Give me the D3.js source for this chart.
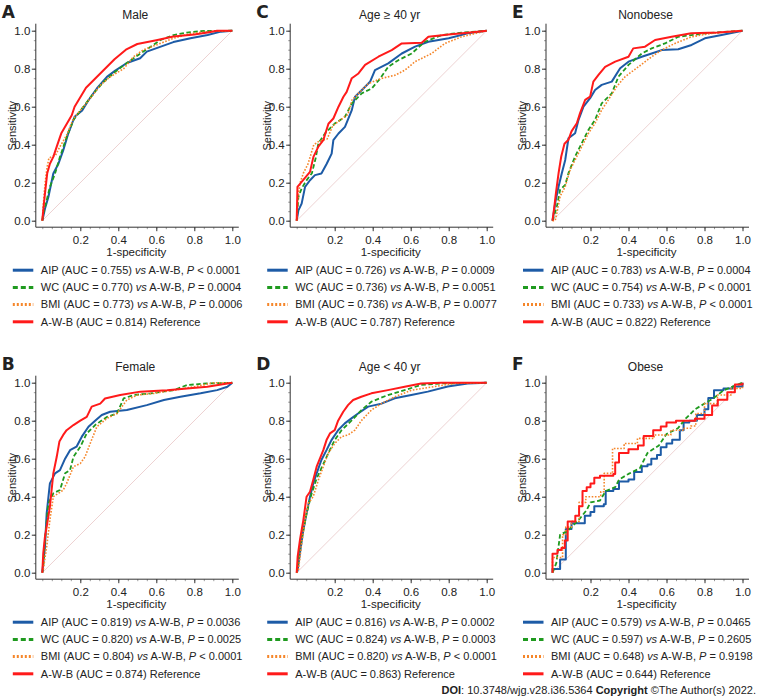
<!DOCTYPE html>
<html>
<head>
<meta charset="utf-8">
<script src="https://cdn.jsdelivr.net/npm/d3@7"></script>
<style>
  html, body { margin: 0; padding: 0; background: #fff; }
  svg { display: block; font-family: "Liberation Sans", Arial, sans-serif; }
</style>
</head>
<body>
<svg id="chart" width="763" height="698"></svg>
<script>
// ROC points [1-specificity, sensitivity]
var maleAIP = [[0,0],[.014,.063],[.032,.125],[.058,.248],[.085,.3],[.11,.37],[.137,.46],[.17,.547],[.21,.58],[.243,.634],[.287,.696],[.34,.757],[.384,.79],[.445,.83],[.515,.855],[.55,.89],[.62,.915],[.69,.94],[.78,.96],[.87,.977],[.94,.995],[1,1]];
var maleWC = [[0,0],[.005,.037],[.023,.107],[.04,.178],[.067,.248],[.093,.336],[.128,.44],[.164,.53],[.216,.6],[.27,.67],[.322,.73],[.384,.784],[.445,.83],[.516,.88],[.57,.915],[.62,.95],[.69,.977],[.76,.99],[.83,.998],[1,1]];
var maleBMI = [[0,0],[.005,.08],[.015,.2],[.025,.28],[.035,.33],[.07,.345],[.093,.39],[.128,.45],[.164,.538],[.208,.59],[.252,.643],[.305,.713],[.357,.757],[.428,.8],[.48,.863],[.533,.9],[.6,.925],[.69,.96],[.78,.985],[.87,.995],[1,1]];
var maleAWB = [[0,0],[.005,.054],[.014,.142],[.026,.25],[.04,.3],[.058,.336],[.076,.39],[.093,.44],[.1,.46],[.155,.555],[.17,.6],[.2,.65],[.23,.7],[.28,.75],[.33,.8],[.38,.85],[.44,.9],[.5,.93],[.6,.95],[.69,.97],[.8,.98],[.87,.99],[.92,1],[1,1]];

var femaleAIP = [[0,0],[.014,.137],[.023,.312],[.04,.47],[.067,.523],[.093,.54],[.12,.6],[.146,.645],[.18,.663],[.208,.716],[.243,.768],[.278,.8],[.313,.83],[.357,.847],[.445,.856],[.55,.882],[.64,.909],[.727,.926],[.833,.944],[.92,.961],[.974,.979],[1,1]];
var femaleWC = [[0,0],[.005,.03],[.014,.172],[.032,.365],[.058,.418],[.093,.435],[.12,.523],[.146,.54],[.164,.61],[.2,.663],[.234,.733],[.278,.777],[.34,.82],[.393,.838],[.428,.917],[.48,.935],[.57,.944],[.693,.961],[.762,.988],[.868,.996],[1,1]];
var femaleBMI = [[0,0],[.005,.015],[.023,.137],[.04,.277],[.058,.4],[.085,.418],[.11,.435],[.128,.47],[.164,.558],[.2,.575],[.225,.61],[.252,.68],[.287,.768],[.34,.812],[.393,.838],[.445,.909],[.5,.935],[.588,.944],[.693,.961],[.8,.979],[.905,1],[1,1]];
var femaleAWB = [[0,0],[.005,.102],[.014,.19],[.023,.242],[.04,.347],[.058,.523],[.076,.61],[.09,.69],[.11,.725],[.128,.75],[.164,.777],[.2,.8],[.234,.82],[.26,.874],[.305,.89],[.33,.917],[.41,.935],[.516,.953],[.657,.96],[.762,.97],[.868,.979],[.974,.996],[1,1]];

var oldAIP = [[0,0],[.009,.054],[.026,.09],[.044,.178],[.07,.213],[.096,.24],[.13,.248],[.158,.3],[.184,.353],[.193,.424],[.22,.459],[.254,.494],[.29,.582],[.307,.652],[.342,.687],[.386,.731],[.412,.793],[.482,.828],[.553,.88],[.623,.916],[.693,.942],[.8,.96],[.9,.986],[1,1]];
var oldWC = [[0,0],[.009,.125],[.026,.17],[.05,.21],[.08,.25],[.1,.33],[.114,.406],[.149,.459],[.2,.511],[.254,.547],[.29,.617],[.342,.67],[.395,.696],[.44,.749],[.482,.81],[.535,.845],[.605,.88],[.675,.942],[.763,.977],[.868,.99],[1,1]];
var oldBMI = [[0,0],[.005,.107],[.018,.2],[.035,.25],[.06,.3],[.09,.4],[.12,.42],[.16,.43],[.19,.5],[.23,.53],[.27,.56],[.29,.634],[.325,.67],[.377,.722],[.447,.749],[.518,.766],[.57,.793],[.623,.837],[.71,.88],[.78,.933],[.868,.968],[1,1]];
var oldAWB = [[0,0],[.004,.178],[.026,.204],[.07,.257],[.088,.336],[.114,.39],[.14,.424],[.167,.51],[.193,.538],[.22,.6],[.246,.652],[.263,.678],[.29,.75],[.325,.775],[.36,.82],[.43,.863],[.5,.898],[.553,.933],[.658,.937],[.693,.968],[.8,.98],[.9,.989],[1,1]];

var youngAIP = [[0,0],[.005,.014],[.017,.102],[.035,.225],[.052,.312],[.07,.4],[.087,.47],[.105,.523],[.13,.593],[.157,.645],[.183,.698],[.218,.75],[.253,.786],[.288,.812],[.323,.838],[.376,.874],[.446,.89],[.516,.918],[.603,.935],[.69,.953],[.795,.98],[.9,.996],[1,1]];
var youngWC = [[0,0],[.005,.03],[.017,.137],[.035,.225],[.052,.312],[.079,.418],[.105,.496],[.13,.55],[.166,.628],[.2,.698],[.236,.75],[.288,.8],[.341,.856],[.393,.9],[.48,.935],[.568,.961],[.655,.988],[.76,.996],[1,1]];
var youngBMI = [[0,0],[.009,.014],[.026,.154],[.044,.277],[.061,.365],[.087,.4],[.114,.488],[.14,.558],[.166,.628],[.2,.68],[.236,.716],[.27,.725],[.306,.75],[.34,.8],[.393,.856],[.446,.89],[.516,.926],[.603,.96],[.725,.98],[.83,.996],[1,1]];
var youngAWB = [[0,0],[.005,.084],[.017,.172],[.035,.277],[.052,.4],[.07,.426],[.087,.488],[.105,.558],[.122,.6],[.14,.645],[.157,.698],[.175,.733],[.2,.75],[.218,.8],[.245,.847],[.27,.882],[.297,.909],[.34,.926],[.393,.944],[.48,.961],[.568,.979],[.655,.996],[.76,1],[1,1]];

var nonobAIP = [[0,0],[.005,.03],[.014,.093],[.032,.18],[.049,.25],[.067,.32],[.084,.434],[.119,.46],[.137,.531],[.163,.6],[.198,.645],[.224,.688],[.259,.715],[.312,.732],[.356,.802],[.4,.837],[.47,.863],[.522,.88],[.574,.898],[.662,.902],[.732,.925],[.802,.96],[.89,.977],[1,1]];
var nonobWC = [[0,0],[.005,.015],[.023,.075],[.04,.163],[.067,.189],[.084,.25],[.119,.338],[.145,.39],[.189,.478],[.224,.531],[.259,.618],[.312,.67],[.347,.758],[.4,.82],[.47,.88],[.522,.907],[.592,.933],[.662,.968],[.802,.986],[1,1]];
var nonobBMI = [[0,0],[.014,0],[.023,.04],[.04,.128],[.067,.18],[.093,.268],[.119,.32],[.154,.39],[.189,.46],[.224,.513],[.259,.583],[.294,.636],[.338,.706],[.382,.758],[.452,.81],[.522,.863],[.574,.898],[.644,.933],[.732,.968],[.837,.986],[1,1]];
var nonobAWB = [[0,0],[.01,.075],[.018,.145],[.032,.25],[.046,.338],[.063,.405],[.084,.426],[.1,.47],[.128,.513],[.145,.566],[.172,.636],[.198,.653],[.215,.732],[.242,.767],[.277,.81],[.33,.837],[.4,.863],[.425,.907],[.487,.916],[.54,.951],[.627,.968],[.73,.986],[.87,.991],[1,1]];

var obeseAIP = [[0,0],[0,.02],[.03,.02],[.04,.07],[.06,.07],[.07,.23],[.09,.23],[.1,.26],[.15,.26],[.17,.3],[.2,.32],[.22,.35],[.27,.36],[.28,.43],[.32,.44],[.35,.48],[.4,.49],[.43,.53],[.47,.56],[.5,.57],[.52,.6],[.55,.62],[.57,.66],[.6,.68],[.63,.7],[.67,.75],[.69,.79],[.72,.8],[.76,.83],[.8,.86],[.82,.92],[.85,.96],[.9,.97],[.95,.98],[1,1]];
var obeseWC = [[0,0],[.02,.05],[.04,.2],[.08,.22],[.14,.28],[.18,.33],[.2,.37],[.25,.38],[.28,.43],[.33,.45],[.35,.49],[.4,.52],[.46,.55],[.5,.63],[.56,.67],[.6,.73],[.66,.76],[.7,.81],[.75,.86],[.8,.89],[.85,.92],[.9,.96],[1,1]];
var obeseBMI = [[0,0],[0,.08],[.053,.08],[.053,.2],[.07,.24],[.1,.27],[.14,.3],[.14,.37],[.175,.4],[.254,.426],[.272,.523],[.316,.654],[.377,.68],[.447,.707],[.535,.725],[.623,.75],[.693,.76],[.728,.772],[.754,.838],[.8,.89],[.868,.935],[.94,.97],[1,1]];
var obeseAWB = [[0,0],[0,.1],[.026,.12],[.047,.13],[.065,.17],[.08,.27],[.1,.27],[.12,.3],[.14,.35],[.158,.43],[.18,.45],[.2,.47],[.22,.5],[.25,.51],[.32,.52],[.33,.58],[.35,.63],[.4,.65],[.45,.67],[.48,.72],[.53,.75],[.57,.77],[.6,.79],[.65,.8],[.75,.81],[.8,.83],[.84,.88],[.87,.91],[.92,.95],[.96,.99],[1,1]];

var seriesNames = ["AIP", "WC", "BMI", "A-W-B"];
var panelLetters = ["A", "B", "C", "D", "E", "F"];
var panelTitles = ["Male", "Female", "Age \u2265 40 yr", "Age < 40 yr", "Nonobese", "Obese"];
var aucValues = [
  ["0.755", "0.770", "0.773", "0.814"],
  ["0.819", "0.820", "0.804", "0.874"],
  ["0.726", "0.736", "0.736", "0.787"],
  ["0.816", "0.824", "0.820", "0.863"],
  ["0.783", "0.754", "0.733", "0.822"],
  ["0.579", "0.597", "0.648", "0.644"]
];
var pValues = [
  ["< 0.0001", "= 0.0004", "= 0.0006"],
  ["= 0.0036", "= 0.0025", "< 0.0001"],
  ["= 0.0009", "= 0.0051", "= 0.0077"],
  ["= 0.0002", "= 0.0003", "< 0.0001"],
  ["= 0.0004", "< 0.0001", "< 0.0001"],
  ["= 0.0465", "= 0.2605", "= 0.9198"]
];
var panelCurves = [
  [maleAIP, maleWC, maleBMI, maleAWB],
  [femaleAIP, femaleWC, femaleBMI, femaleAWB],
  [oldAIP, oldWC, oldBMI, oldAWB],
  [youngAIP, youngWC, youngBMI, youngAWB],
  [nonobAIP, nonobWC, nonobBMI, nonobAWB],
  [obeseAIP, obeseWC, obeseBMI, obeseAWB]
];
var majorTicks = [0, 0.2, 0.4, 0.6, 0.8, 1.0];
var xTickLabels = [0.2, 0.4, 0.6, 0.8, 1.0];

var colors = ["#1d5ba6", "#1f9a1f", "#f5862a", "#ff1a1a"];
var dashes = [null, "4.5,2.5", "1.6,1.6", null];
var widths = [2, 1.8, 1.6, 2];
var legendDash = [null, "5,3", "2,2", null];

var colX = [42.3, 296.7, 552.5];
var rowY = [30.7, 382.7];
var size = 190;

var svg = d3.select("#chart");
var x = d3.scaleLinear().domain([0, 1]).range([0, size]);
var y = d3.scaleLinear().domain([0, 1]).range([size, 0]);
var minor = d3.range(0, 21).map(function(i){ return i / 20; });

panelLetters.forEach(function(letter, p){
  var x0 = colX[Math.floor(p / 2)], y0 = rowY[p % 2];
  var g = svg.append("g").attr("transform", "translate(" + x0 + "," + y0 + ")");
  var stepped = p === 5;

  g.append("text").attr("x", -40.5).attr("y", -13).attr("font-family", "DejaVu Sans")
    .attr("font-weight", "bold").attr("font-size", 17).attr("fill", "#222").text(letter);
  g.append("text").attr("x", 93).attr("y", -11.5).attr("text-anchor", "middle")
    .attr("font-size", 12).attr("fill", "#222").text(panelTitles[p]);

  // y axis
  var ya = g.append("g").attr("transform", "translate(-6.5,0)");
  ya.append("g").call(d3.axisLeft(y).tickValues(minor).tickSize(2).tickFormat(""))
    .call(function(s){ s.select(".domain").remove(); s.selectAll("line").attr("stroke", "#9a9a9a"); });
  ya.append("g").call(d3.axisLeft(y).tickValues(majorTicks).tickSize(4).tickPadding(1.5).tickFormat(d3.format(".1f")))
    .call(function(s){
      s.select(".domain").remove();
      s.selectAll("line").attr("stroke", "#333");
      s.selectAll("text").attr("font-size", 11.5).attr("fill", "#222").attr("font-family", "Liberation Sans, Arial");
    });
  ya.append("line").attr("x1", 0).attr("x2", 0).attr("y1", y(1) - 7).attr("y2", y(0) + 6.5)
    .attr("stroke", "#333").attr("stroke-width", 1);

  // x axis
  var xa = g.append("g").attr("transform", "translate(0," + (size + 6.5) + ")");
  xa.append("g").call(d3.axisBottom(x).tickValues(minor).tickSize(2).tickFormat(""))
    .call(function(s){ s.select(".domain").remove(); s.selectAll("line").attr("stroke", "#9a9a9a"); });
  xa.append("g").call(d3.axisBottom(x).tickValues(xTickLabels).tickSize(4).tickPadding(5).tickFormat(d3.format(".1f")))
    .call(function(s){
      s.select(".domain").remove();
      s.selectAll("line").attr("stroke", "#333");
      s.selectAll("text").attr("font-size", 11.5).attr("fill", "#222").attr("font-family", "Liberation Sans, Arial");
    });
  xa.append("line").attr("x1", x(0) - 6.5).attr("x2", x(1) + 6.5).attr("y1", 0).attr("y2", 0)
    .attr("stroke", "#333").attr("stroke-width", 1);

  g.append("text").attr("transform", "translate(-30," + (size / 2) + ") rotate(-90)")
    .attr("text-anchor", "middle").attr("dy", "0.35em").attr("font-size", 11).attr("fill", "#222").text("Sensitivity");
  g.append("text").attr("x", 94).attr("y", 225.5).attr("text-anchor", "middle")
    .attr("font-size", 11.5).attr("fill", "#222").text("1-specificity");

  // reference diagonal
  g.append("line").attr("x1", x(0)).attr("y1", y(0)).attr("x2", x(1)).attr("y2", y(1))
    .attr("stroke", "#e8c6c6").attr("stroke-width", 0.8);

  panelCurves[p].forEach(function(pts, i){
    var line = d3.line().x(function(d){ return x(d[0]); }).y(function(d){ return y(d[1]); })
      .curve(stepped && i !== 1 ? d3.curveStepAfter : d3.curveLinear);
    g.append("path").datum(pts).attr("d", line).attr("fill", "none")
      .attr("stroke", colors[i]).attr("stroke-width", widths[i])
      .attr("stroke-dasharray", dashes[i]).attr("stroke-linejoin", "round");
  });

  // legend
  var lg = g.append("g").attr("transform", "translate(0," + (size + 49.5) + ")");
  seriesNames.forEach(function(name, i){
    var row = lg.append("g").attr("transform", "translate(0," + (i * 17.2) + ")");
    row.append("line").attr("x1", -29.5).attr("x2", -9).attr("y1", 0).attr("y2", 0)
      .attr("stroke", colors[i]).attr("stroke-width", 3).attr("stroke-dasharray", legendDash[i]);
    var t = row.append("text").attr("x", -1.5).attr("dy", "0.35em").attr("font-size", 11).attr("fill", "#222");
    if (i < 3) {
      t.append("tspan").text(name + " (AUC = " + aucValues[p][i] + ") ");
      t.append("tspan").attr("font-style", "italic").text("vs");
      t.append("tspan").text(" A-W-B, ");
      t.append("tspan").attr("font-style", "italic").text("P");
      t.append("tspan").text(" " + pValues[p][i]);
    } else {
      t.text(name + " (AUC = " + aucValues[p][i] + ") Reference");
    }
  });
});

var doi = svg.append("text").attr("x", 756).attr("y", 694).attr("text-anchor", "end")
  .attr("font-size", 11).attr("fill", "#222");
doi.append("tspan").attr("font-weight", "bold").text("DOI");
doi.append("tspan").text(": 10.3748/wjg.v28.i36.5364 ");
doi.append("tspan").attr("font-weight", "bold").text("Copyright");
doi.append("tspan").text(" \u00a9The Author(s) 2022.");
</script>
</body>
</html>
